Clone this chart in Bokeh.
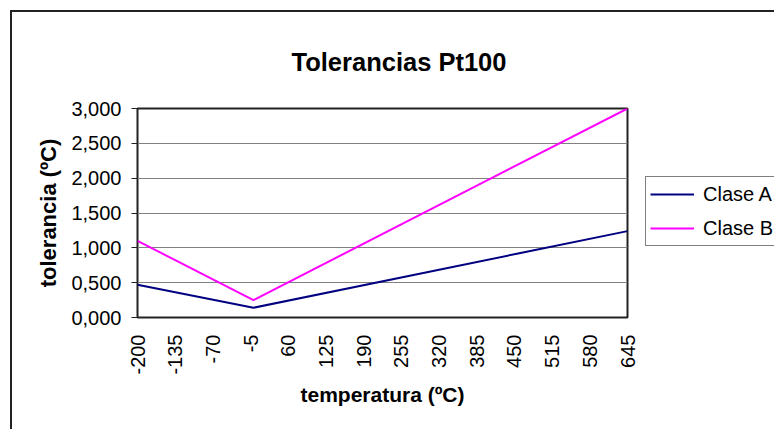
from math import pi
from bokeh.plotting import figure
from bokeh.layouts import row
from bokeh.models import (Legend, LegendItem, FixedTicker, Range1d, CustomJSTickFormatter)
from bokeh.embed import file_html
from bokeh.resources import INLINE

# ---- data ----
temperatures = [-200, 0, 645]
clase_a = [0.47, 0.14, 1.24]
clase_b = [1.10, 0.25, 3.00]
series_names = ["Clase A", "Clase B"]
series_colors = ["#000080", "#FF00FF"]
x_ticks = [-200, -135, -70, -5, 60, 125, 190, 255, 320, 385, 450, 515, 580, 645]
x_tick_labels = ["-200", "-135", "-70", "-5", "60", "125", "190", "255",
                 "320", "385", "450", "515", "580", "645"]
y_ticks = [0.0, 0.5, 1.0, 1.5, 2.0, 2.5, 3.0]
y_tick_labels = ["0,000", "0,500", "1,000", "1,500", "2,000", "2,500", "3,000"]

FONT = "Liberation Sans"
W, H = 628, 417
BL, BR, BT, BB = 125, 13, 96, 112
LW = 134
X0, X1 = -200, 645
Y0, Y1 = 0, 3

p = figure(width=W, height=H, output_backend="svg", toolbar_location=None,
           x_range=Range1d(X0, X1), y_range=Range1d(Y0, Y1),
           min_border_left=BL, min_border_right=BR,
           min_border_top=BT, min_border_bottom=BB)
p.background_fill_color = "white"
p.border_fill_color = "white"
p.outline_line_color = "#222222"
p.outline_line_width = 2

# title
p.title.text = "Tolerancias Pt100"
p.title.align = "left"
p.title.offset = 154
p.title.text_font = FONT
p.title.text_font_size = "25.5px"
p.title.text_font_style = "bold"
p.title.text_color = "black"
p.title.standoff = 65

# x axis (below)
xax = p.below[0]
xax.ticker = FixedTicker(ticks=x_ticks)
xax.formatter = CustomJSTickFormatter(
    args=dict(tick_values=x_ticks, tick_labels=x_tick_labels),
    code="const i = tick_values.indexOf(tick); return i >= 0 ? tick_labels[i] : String(tick);")
xax.major_label_orientation = pi / 2
xax.major_tick_out = 0
xax.major_tick_in = 0
xax.minor_tick_out = 0
xax.minor_tick_in = 0
xax.axis_line_color = None
xax.major_label_standoff = 17
xax.axis_label = "temperatura (ºC)"
xax.axis_label_standoff = 5
p.xgrid.visible = False

# y axis (left)
yax = p.left[0]
yax.ticker = FixedTicker(ticks=y_ticks)
yax.formatter = CustomJSTickFormatter(
    args=dict(tick_values=y_ticks, tick_labels=y_tick_labels),
    code="const i = tick_values.indexOf(tick); return i >= 0 ? tick_labels[i] : String(tick);")
yax.major_tick_out = 6
yax.major_tick_in = 0
yax.minor_tick_out = 0
yax.minor_tick_in = 0
yax.major_tick_line_color = "#222222"
yax.axis_line_color = None
yax.major_label_standoff = 10
yax.axis_label = "tolerancia (ºC)"
yax.axis_label_standoff = 7
p.ygrid.grid_line_color = "#808080"
p.ygrid.grid_line_width = 1

for ax in (xax, yax):
    ax.major_label_text_font = FONT
    ax.major_label_text_font_size = "20px"
    ax.major_label_text_color = "black"
    ax.axis_label_text_font = FONT
    ax.axis_label_text_font_size = "21px"
    ax.axis_label_text_font_style = "bold"
    ax.axis_label_text_color = "black"
yax.axis_label_text_font_size = "22px"

p.line(temperatures, clase_a, line_color=series_colors[0], line_width=2)
p.line(temperatures, clase_b, line_color=series_colors[1], line_width=2)

# legend panel to the right of the chart; its key renderers use the same
# series but lie outside this panel's (empty) view
lf = figure(width=LW, height=H, output_backend="svg", toolbar_location=None,
            x_range=Range1d(X0, X1), y_range=Range1d(Y1 + 10, Y1 + 11),
            x_axis_type=None, y_axis_type=None,
            min_border_left=0, min_border_right=0, min_border_top=0, min_border_bottom=0)
lf.outline_line_color = None
lf.background_fill_color = "white"
lf.border_fill_color = "white"
lf.xgrid.visible = False
lf.ygrid.visible = False
key_a = lf.line(temperatures, clase_a, line_color=series_colors[0], line_width=2)
key_b = lf.line(temperatures, clase_b, line_color=series_colors[1], line_width=2)

legend = Legend(items=[LegendItem(label=series_names[0], renderers=[key_a]),
                       LegendItem(label=series_names[1], renderers=[key_b])],
                location=(5, 71))
legend.border_line_color = "black"
legend.border_line_width = 1
legend.background_fill_color = "white"
legend.background_fill_alpha = 1
legend.padding = 4
legend.spacing = 8
legend.margin = 0
legend.label_height = 26
legend.glyph_height = 26
legend.glyph_width = 44
legend.label_standoff = 9
legend.label_text_font = FONT
legend.label_text_font_size = "20px"
legend.label_text_color = "black"
lf.add_layout(legend, "center")

layout = row(p, lf, margin=(10, 0, 0, 10),
             styles={"border-left": "2px solid #222222",
                     "border-top": "2px solid #222222"})

open("out.html", "w").write(file_html(layout, INLINE))
